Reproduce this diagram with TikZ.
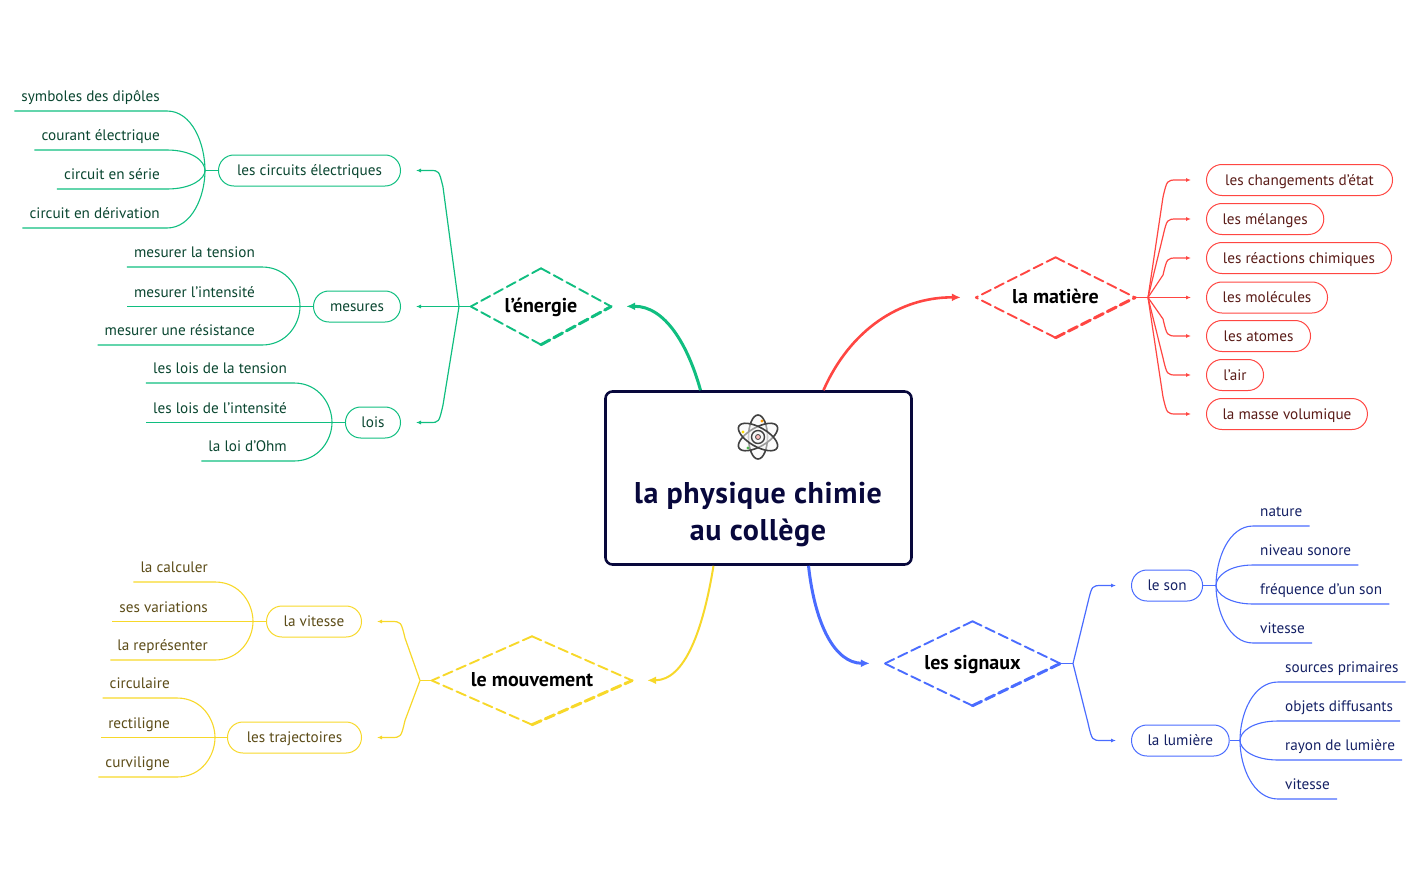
\documentclass[tikz,border=0pt]{standalone}
\usepackage{fontspec}
\setmainfont{PT Sans}
\newfontfamily\titlefont[LetterSpace=2]{PT Sans}
\usetikzlibrary{shapes.geometric,arrows.meta,calc}
\definecolor{rootnavy}{RGB}{8,8,60}
\definecolor{enegreen}{RGB}{16,190,128}
\definecolor{matred}{RGB}{255,70,66}
\definecolor{sigblue}{RGB}{74,108,255}
\definecolor{mouyellow}{RGB}{247,216,42}
\definecolor{enetext}{RGB}{10,70,48}
\definecolor{mattext}{RGB}{90,28,24}
\definecolor{sigtext}{RGB}{20,32,100}
\definecolor{moutext}{RGB}{92,76,24}
\tikzset{
  themebox/.style={diamond, aspect=2, inner sep=0pt, text height=13pt, text depth=1pt,
    text=black, font=\fontsize{20}{22}\selectfont\bfseries},
  themeline/.style={dash pattern=on 10pt off 4.5pt, line cap=round, line width=#1},
  pillbox/.style={draw, rounded corners=15.4pt, minimum height=31pt, inner xsep=16pt, inner ysep=0pt,
    text height=11pt, text depth=1pt, font=\fontsize{15.2}{18}\selectfont, line width=1pt},
  leafbox/.style={minimum height=30pt, inner xsep=7pt, inner ysep=0pt,
    text height=12pt, text depth=0pt, font=\fontsize{15.2}{18}\selectfont},
  mainline/.style={line width=#1, -{Latex[length=9pt,width=8pt]}, shorten >=15pt},
  branchline/.style={line width=1.2pt, -{Latex[length=5pt,width=4pt]}, shorten >=15pt},
  leafline/.style={line width=1.1pt}
}
\begin{document}
\begin{tikzpicture}[x=1pt,y=-1pt]
\useasboundingbox (0,0) rectangle (1423,881);

% Root
\node[draw=rootnavy, line width=2.6pt, rounded corners=7pt, minimum width=306pt, minimum height=173pt, inner sep=0pt] (root) at (758.5,478) {};
\node[text=rootnavy, align=center, font=\fontsize{30}{37}\titlefont\bfseries] (title) at (758,515) {la physique chimie\\au collège};

% Atom icon
\foreach \a in {90,30,-30}
  \draw[black!75, line width=1.6pt, fill=gray!6, fill opacity=0.5, rotate around={\a:(758,437)}] (758,437) ellipse (22pt and 9.5pt);
\draw[black!75, line width=1.4pt] (758,437) circle (6.5pt);
\filldraw[draw=black!75, fill=red!25, line width=0.8pt] (758,437) circle (2.5pt);
\fill[orange!80!yellow] (762,421) circle (1.7pt);
\fill[yellow!80!orange] (743,432) circle (1.7pt);
\fill[green!60!black!70] (748,448) circle (1.7pt);

% Themes
\node[themebox, minimum width=140pt, minimum height=76pt] (ene) at (541,306.5) {l'énergie};
\node[themebox, minimum width=159pt, minimum height=80pt] (mat) at (1055.5,297.5) {la matière};
\node[themebox, minimum width=175pt, minimum height=84pt] (sig) at (972.5,663.5) {les signaux};
\node[themebox, minimum width=200pt, minimum height=88pt] (mou) at (532,680.5) {le mouvement};

% Dashed sides, heavier on the lower right
\foreach \nm/\col in {ene/enegreen, mat/matred, sig/sigblue, mou/mouyellow} {
  \draw[\col, themeline=1.9pt] (\nm.north) -- (\nm.east);
  \draw[\col, themeline=1.9pt] (\nm.north) -- (\nm.west);
  \draw[\col, themeline=1.9pt] (\nm.south) -- (\nm.west);
  \draw[\col, themeline=3pt] (\nm.south) -- (\nm.east);
}

% Root to themes
\draw[enegreen, mainline=3pt] ([xshift=-58pt]root.north) .. controls (688,345) and (665,306) .. (ene.east);
\draw[matred, mainline=2.6pt] ([xshift=65pt]root.north) .. controls (850,330) and (900,297) .. (mat.west);
\draw[sigblue, mainline=3pt] ([xshift=50pt]root.south) .. controls (815,625) and (835,663) .. (sig.west);
\draw[mouyellow, mainline=2pt] ([xshift=-45pt]root.south) .. controls (703,630) and (685,680) .. (mou.east);

% Pills of l'énergie
\node[pillbox, draw=enegreen, text=enetext, anchor=east, minimum width=182pt] (cir) at (401,170.5) {les circuits électriques};
\node[pillbox, draw=enegreen, text=enetext, anchor=east, minimum width=87pt] (mes) at (401,306.5) {mesures};
\node[pillbox, draw=enegreen, text=enetext, anchor=east] (loi) at (401,422.5) {lois};
\coordinate (enehub) at (459,306.5);
\draw[enegreen, line width=1.2pt] (ene.west) -- (enehub);
\foreach \nm/\ty/\py in {cir/170.5/187, loi/422.5/405}
  \draw[enegreen, branchline] (enehub) -- (443,\py) .. controls (439,\ty) .. (430,\ty) -- (\nm.east);
\draw[enegreen, branchline] (enehub) -- (mes.east);

% Leaves of les circuits électriques
\coordinate (cirhub) at (205,170.5);
\draw[enegreen, leafline] (cir.west) -- (cirhub);
\foreach \nm/\x/\y/\lab in {sym/167/111/symboles des dipôles, cou/167/150/courant électrique, ser/167/189/circuit en série, der/167/228/circuit en dérivation} {
  \node[leafbox, text=enetext, anchor=south east] (\nm) at (\x,\y) {\lab};
  \draw[enegreen, leafline] (cirhub) .. controls (205,{170+.45*(\y-170)}) and (192,\y) .. (\nm.south east) -- (\nm.south west);
}

% Leaves of mesures
\coordinate (meshub) at (300,306.5);
\draw[enegreen, leafline] (mes.west) -- (meshub);
\foreach \nm/\x/\y/\lab in {ten/262/267/mesurer la tension, res/262/345/mesurer une résistance} {
  \node[leafbox, text=enetext, anchor=south east] (\nm) at (\x,\y) {\lab};
  \draw[enegreen, leafline] (meshub) .. controls (300,{306+.45*(\y-306)}) and (287,\y) .. (\nm.south east) -- (\nm.south west);
}
\node[leafbox, text=enetext, anchor=south east] (int) at (262,306.5) {mesurer l'intensité};
\draw[enegreen, leafline] (meshub) -- (int.south west);

% Leaves of lois
\coordinate (loihub) at (332,422.5);
\draw[enegreen, leafline] (loi.west) -- (loihub);
\foreach \nm/\x/\y/\lab in {lte/294/383/les lois de la tension, ohm/294/461/la loi d'Ohm} {
  \node[leafbox, text=enetext, anchor=south east] (\nm) at (\x,\y) {\lab};
  \draw[enegreen, leafline] (loihub) .. controls (332,{422+.45*(\y-422)}) and (319,\y) .. (\nm.south east) -- (\nm.south west);
}
\node[leafbox, text=enetext, anchor=south east] (lin) at (294,422.5) {les lois de l'intensité};
\draw[enegreen, leafline] (loihub) -- (lin.south west);

% Pills of la matière
\coordinate (mathub) at (1148,297.5);
\draw[matred, line width=1.2pt] (mat.east) -- (mathub);
\foreach \nm/\ty/\py/\wid/\lab in {chg/180/197/186/les changements d'état, mel/219/236/115/les mélanges, rea/258/275/185/les réactions chimiques, ato/336/319/104/les atomes, air/375/358/57/l'air, vol/414/397/160/la masse volumique} {
  \node[pillbox, draw=matred, text=mattext, anchor=west, minimum width=\wid pt] (\nm) at (1206,\ty) {\lab};
  \draw[matred, branchline] (mathub) -- (1163,\py) .. controls (1167,\ty) .. (1177,\ty) -- (\nm.west);
}
\node[pillbox, draw=matred, text=mattext, anchor=west, minimum width=121pt] (mol) at (1206,297.5) {les molécules};
\draw[matred, branchline] (mathub) -- (mol.west);

% Pills of les signaux
\node[pillbox, draw=sigblue, text=sigtext, anchor=west] (son) at (1131,585.5) {le son};
\node[pillbox, draw=sigblue, text=sigtext, anchor=west] (lum) at (1131,740.5) {la lumière};
\coordinate (sighub) at (1073,663.5);
\draw[sigblue, line width=1.2pt] (sig.east) -- (sighub);
\foreach \nm/\ty/\py in {son/585.5/602, lum/740.5/723}
  \draw[sigblue, branchline] (sighub) -- (1088,\py) .. controls (1092,\ty) .. (1102,\ty) -- (\nm.west);

% Leaves of le son
\coordinate (sonhub) at (1216,585.5);
\draw[sigblue, leafline] (son.east) -- (sonhub);
\foreach \nm/\x/\y/\lab in {nat/1253/526/nature, niv/1253/565/niveau sonore, fre/1253/604/fréquence d'un son, vis/1253/643/vitesse} {
  \node[leafbox, text=sigtext, anchor=south west] (\nm) at (\x,\y) {\lab};
  \draw[sigblue, leafline] (sonhub) .. controls (1216,{585+.45*(\y-585)}) and (1229,\y) .. (\nm.south west) -- (\nm.south east);
}

% Leaves of la lumière
\coordinate (lumhub) at (1240,740.5);
\draw[sigblue, leafline] (lum.east) -- (lumhub);
\foreach \nm/\x/\y/\lab in {sou/1278/682/sources primaires, obj/1278/721/objets diffusants, ray/1278/760/rayon de lumière, vil/1278/799/vitesse} {
  \node[leafbox, text=sigtext, anchor=south west] (\nm) at (\x,\y) {\lab};
  \draw[sigblue, leafline] (lumhub) .. controls (1240,{740+.45*(\y-740)}) and (1253,\y) .. (\nm.south west) -- (\nm.south east);
}

% Pills of le mouvement
\node[pillbox, draw=mouyellow, text=moutext, anchor=east, minimum width=95pt] (vit) at (362,621.5) {la vitesse};
\node[pillbox, draw=mouyellow, text=moutext, anchor=east, minimum width=134pt] (tra) at (362,737.5) {les trajectoires};
\coordinate (mouhub) at (420,680.5);
\draw[mouyellow, line width=1.2pt] (mou.west) -- (mouhub);
\foreach \nm/\ty/\py in {vit/621.5/638, tra/737.5/720.5}
  \draw[mouyellow, branchline] (mouhub) -- (405,\py) .. controls (401,\ty) .. (391,\ty) -- (\nm.east);

% Leaves of la vitesse
\coordinate (vithub) at (253,621.5);
\draw[mouyellow, leafline] (vit.west) -- (vithub);
\foreach \nm/\x/\y/\lab in {cal/215/582/la calculer, rep/215/660/la représenter} {
  \node[leafbox, text=moutext, anchor=south east] (\nm) at (\x,\y) {\lab};
  \draw[mouyellow, leafline] (vithub) .. controls (253,{621+.45*(\y-621)}) and (240,\y) .. (\nm.south east) -- (\nm.south west);
}
\node[leafbox, text=moutext, anchor=south east] (var) at (215,621.5) {ses variations};
\draw[mouyellow, leafline] (vithub) -- (var.south west);

% Leaves of les trajectoires
\coordinate (trahub) at (215,737.5);
\draw[mouyellow, leafline] (tra.west) -- (trahub);
\foreach \nm/\x/\y/\lab in {cir2/177/698/circulaire, cur/177/777/curviligne} {
  \node[leafbox, text=moutext, anchor=south east] (\nm) at (\x,\y) {\lab};
  \draw[mouyellow, leafline] (trahub) .. controls (215,{737.5+.45*(\y-737.5)}) and (202,\y) .. (\nm.south east) -- (\nm.south west);
}
\node[leafbox, text=moutext, anchor=south east] (rec) at (177,737.5) {rectiligne};
\draw[mouyellow, leafline] (trahub) -- (rec.south west);
\end{tikzpicture}
\end{document}
